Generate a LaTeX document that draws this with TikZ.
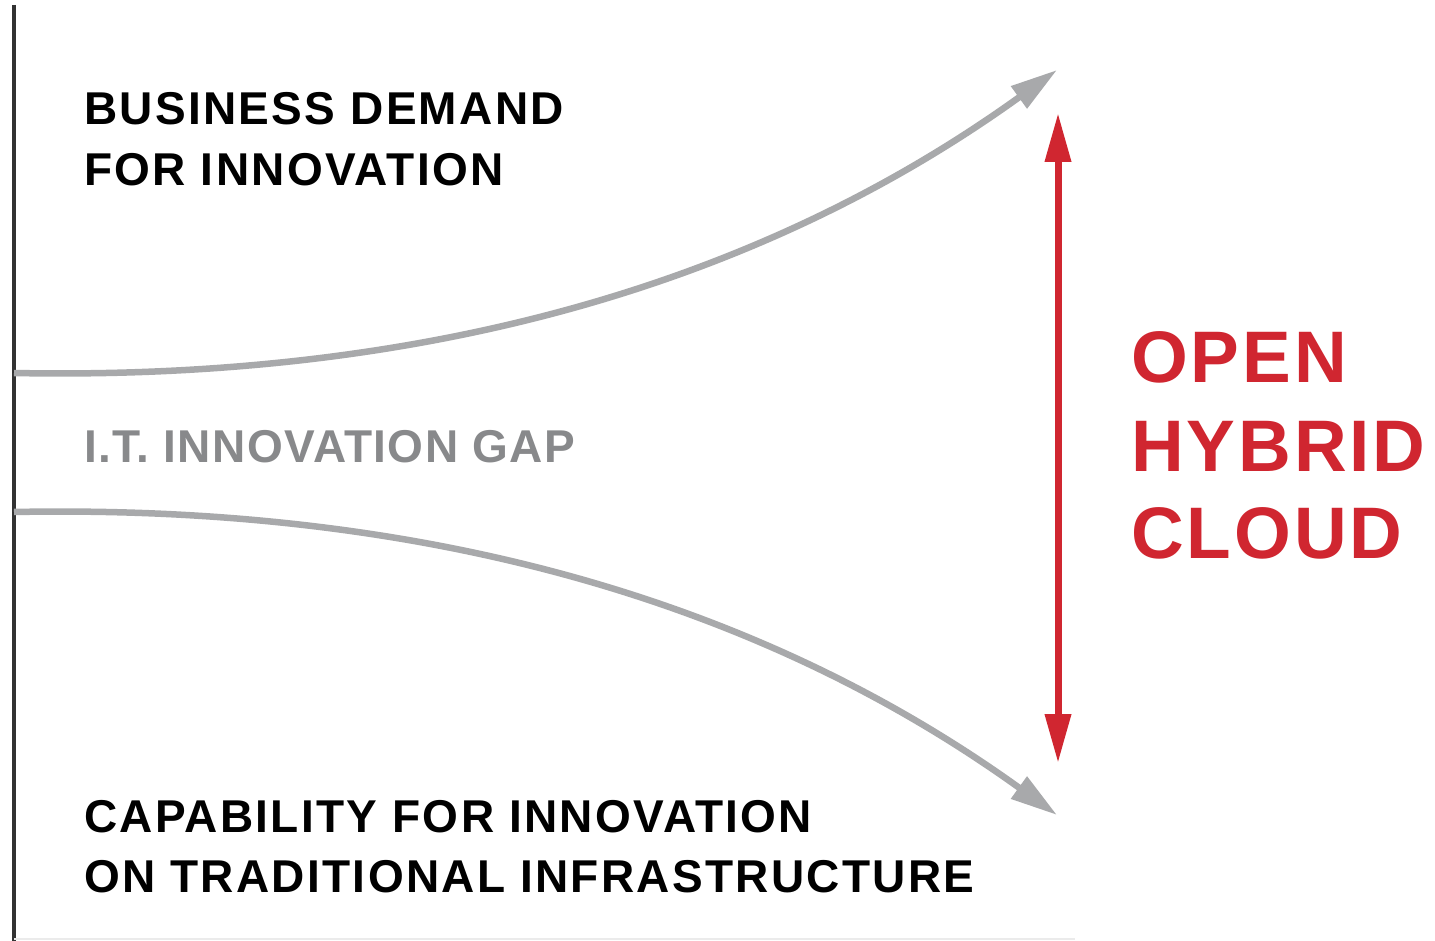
\documentclass[tikz,border=0pt]{standalone}
\usepackage{fontspec}
\setmainfont{Liberation Sans}
\usetikzlibrary{arrows.meta}
\definecolor{rhred}{RGB}{208,38,48}
\definecolor{curvegrey}{RGB}{168,169,171}
\definecolor{gaptext}{RGB}{136,137,139}
\definecolor{axisgrey}{RGB}{50,50,50}
\begin{document}
\begin{tikzpicture}[x=1pt,y=-1pt,
  blacktext/.style={anchor=base west, inner sep=0pt, font=\addfontfeatures{LetterSpace=5}\fontsize{46}{46}\selectfont\bfseries, text=black},
  greytext/.style={anchor=base west, inner sep=0pt, font=\addfontfeatures{LetterSpace=3}\fontsize{46}{46}\selectfont\bfseries, text=gaptext},
  redtext/.style={anchor=base west, inner sep=0pt, font=\addfontfeatures{LetterSpace=4}\fontsize{73}{73}\selectfont\bfseries, text=rhred},
  trend/.style={draw=curvegrey, line width=6.5pt, -{Triangle[length=47pt,width=26pt]}},
  gaparrow/.style={draw=rhred, line width=7pt, {Triangle[length=49pt,width=25pt]}-{Triangle[length=49pt,width=25pt]}}
]
\useasboundingbox (0,0) rectangle (1435,941);
\fill[white] (0,0) rectangle (1435,941);
% axes
\coordinate (axtop) at (14,5);
\coordinate (axbot) at (14,941);
\coordinate (axright) at (1075,939);
\draw[axisgrey, line width=3.5pt] (axtop) -- (axbot);
\draw[black!8, line width=2pt] (axbot) ++(0,-2) -- (axright);
% curves
\coordinate (upstart) at (14,373);
\coordinate (upend) at (1057,70);
\coordinate (lostart) at (14,512);
\coordinate (loend) at (1057,815);
\draw[trend] (upstart) .. controls (480,382) and (800,255) .. (upend);
\draw[trend] (lostart) .. controls (480,503) and (800,630) .. (loend);
% red arrow
\coordinate (redtop) at (1058,113);
\coordinate (redbot) at (1058,763);
\draw[gaparrow] (redtop) -- (redbot);
% texts
\node[blacktext] (bd1) at (84,125) {BUSINESS DEMAND};
\node[blacktext] (bd2) at (84,186) {FOR INNOVATION};
\node[greytext] (gap) at (84,462) {I.T. INNOVATION GAP};
\node[blacktext] (cap1) at (84,832) {CAPABILITY FOR INNOVATION};
\node[blacktext] (cap2) at (84,892) {ON TRADITIONAL INFRASTRUCTURE};
\node[redtext] (ohc1) at (1131,382) {OPEN};
\node[redtext] (ohc2) at (1131,471) {HYBRID};
\node[redtext] (ohc3) at (1131,558) {CLOUD};
\end{tikzpicture}
\end{document}
